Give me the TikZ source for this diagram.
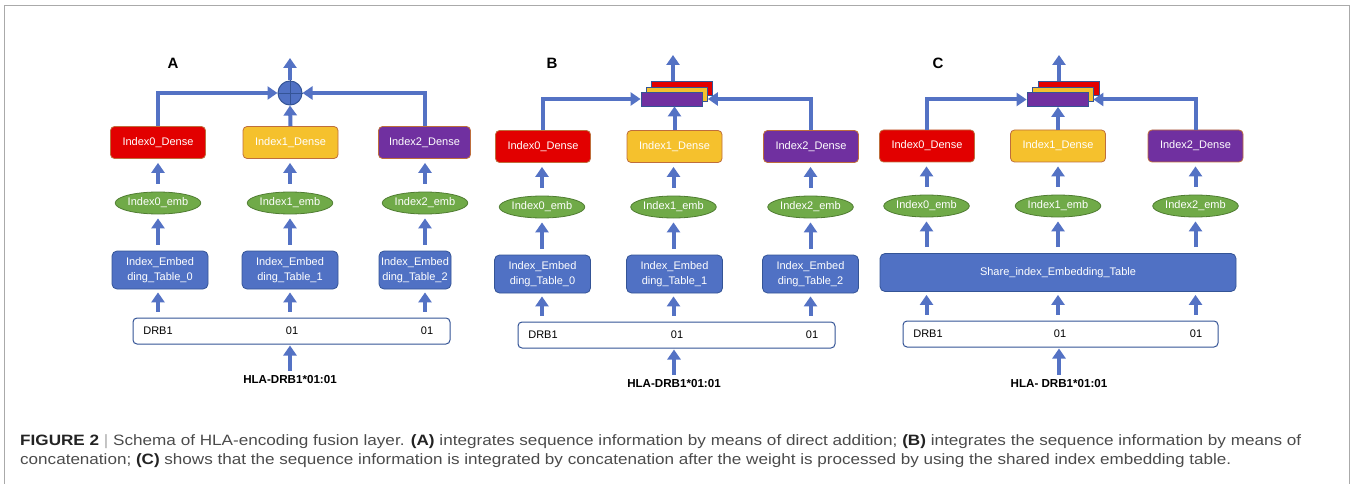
\documentclass[tikz,border=0pt]{standalone}
\usepackage{fontspec}
\setmainfont{Liberation Sans}
\newfontfamily\capfont{Liberation Sans}
\usetikzlibrary{arrows.meta,shapes.geometric,calc}
\definecolor{arrblue}{RGB}{84,114,196}
\definecolor{tabblue}{RGB}{80,113,196}
\definecolor{tabedge}{RGB}{52,84,150}
\definecolor{dred}{RGB}{226,0,0}
\definecolor{dyellow}{RGB}{245,193,45}
\definecolor{dpurple}{RGB}{112,48,160}
\definecolor{dedge}{RGB}{190,110,60}
\definecolor{embgreen}{RGB}{112,170,72}
\definecolor{embedge}{RGB}{80,125,50}
\definecolor{framegray}{RGB}{170,170,170}
\definecolor{captext}{RGB}{75,75,75}
\definecolor{capbold}{RGB}{35,35,35}
\begin{document}
\begin{tikzpicture}[x=1pt,y=-1pt,
  boxfont/.style={font=\fontsize{11}{15}\selectfont},
  dense/.style={boxfont, rounded corners=4pt, minimum width=95pt, minimum height=32pt, inner sep=0pt, line width=0.8pt, draw=dedge, text=white},
  emb/.style={boxfont, ellipse, draw=embedge, fill=embgreen, line width=0.8pt, minimum width=80pt, minimum height=22pt, inner sep=0pt, text=white},
  tab/.style={boxfont, rounded corners=5pt, fill=tabblue, draw=tabedge, line width=0.8pt, minimum width=96pt, minimum height=38pt, inner sep=0pt, align=center, text=white},
  rowbox/.style={draw=tabedge, fill=white, rounded corners=4pt, line width=1pt, minimum height=26pt, inner sep=0pt},
  rowtxt/.style={boxfont, inner sep=0pt, text=black},
  hla/.style={font=\fontsize{11.6}{13}\selectfont\bfseries, inner sep=0pt, text=black},
  panel/.style={font=\fontsize{15}{17}\selectfont\bfseries, inner sep=0pt, text=black},
  arr/.style={draw=arrblue, line width=4pt, -{Triangle[width=13pt,length=10pt]}},
  plusnode/.style={circle, draw=tabedge, fill=tabblue, line width=1pt, minimum size=24pt, inner sep=0pt},
  stk/.style={draw=tabedge, line width=0.8pt, minimum width=61pt, minimum height=14pt, inner sep=0pt},
  up1/.style={arr, shorten <=8pt, shorten >=4pt},
  up2/.style={arr, shorten <=6pt, shorten >=4pt},
  up3/.style={arr, shorten <=6pt, shorten >=3pt},
  captxt/.style={anchor=base west, inner sep=0pt, text=captext},
]
\useasboundingbox (0,0) rectangle (1352,484);
\draw[framegray, line width=1pt] (4,490) -- (4,6) -- (1349,6) -- (1349,490);

% ================= Panel A =================
\node[panel] (labA) at (173,63) {A};
\node[plusnode] (pA) at (290,93) {};
\draw[tabedge, line width=0.8pt] (pA.north) -- (pA.south) (pA.west) -- (pA.east);
\coordinate (oA) at (290,58);
\node[dense, fill=dred] (dA0) at (158,142.5) {Index0\_Dense};
\node[dense, fill=dyellow] (dA1) at (290.5,142.5) {Index1\_Dense};
\node[dense, fill=dpurple, minimum width=92pt] (dA2) at (424.5,142.5) {Index2\_Dense};
\node[emb] (eA0) at (158,203) {Index0\_emb};
\node[emb] (eA1) at (290,203) {Index1\_emb};
\node[emb] (eA2) at (425,203) {Index2\_emb};
\node[tab] (tA0) at (160,270) {Index\_Embed\\ding\_Table\_0};
\node[tab] (tA1) at (290,270) {Index\_Embed\\ding\_Table\_1};
\node[tab, minimum width=72pt] (tA2) at (415,270) {Index\_Embed\\ding\_Table\_2};
\node[rowbox, minimum width=317pt] (rA) at (291.5,331) {};
\node[rowtxt] (rA0) at (158,331) {DRB1};
\node[rowtxt] (rA1) at (292,331) {01};
\node[rowtxt] (rA2) at (427,331) {01};
\node[hla] (hA) at (290,380) {HLA-DRB1*01:01};

\draw[arr] (pA.north) -- (oA);
\draw[arr] (dA0.north) |- (pA.west);
\draw[arr] (dA2.north) |- (pA.east);
\draw[arr] (dA1.north) -- (pA.south);
\draw[up1] (eA0.north) -- (dA0.south);
\draw[up1] (eA1.north) -- (eA1.north |- dA1.south);
\draw[up1] (eA2.north) -- (eA2.north |- dA2.south);
\draw[up2] (eA0 |- tA0.north) -- (eA0.south);
\draw[up2] (eA1 |- tA1.north) -- (eA1.south);
\draw[up2] (eA2 |- tA2.north) -- (eA2.south);
\draw[up3] (eA0 |- rA.north) -- (eA0 |- tA0.south);
\draw[up3] (eA1 |- rA.north) -- (eA1 |- tA1.south);
\draw[up3] (eA2 |- rA.north) -- (eA2 |- tA2.south);
\draw[arr, shorten <=5pt, shorten >=1pt] (hA.north) -- (hA.north |- rA.south);

% ================= Panel B =================
\node[panel] (labB) at (552,63) {B};
\node[stk, fill=dred] (sB2) at (682,88) {};
\node[stk, fill=dyellow] (sB1) at (677,94) {};
\node[stk, fill=dpurple] (sB0) at (671.5,99) {};
\coordinate (oB) at (673,55);
\node[dense, fill=dred] (dB0) at (543,146.5) {Index0\_Dense};
\node[dense, fill=dyellow] (dB1) at (674.5,146.5) {Index1\_Dense};
\node[dense, fill=dpurple] (dB2) at (811,146.5) {Index2\_Dense};
\node[emb] (eB0) at (542,207) {Index0\_emb};
\node[emb] (eB1) at (673.5,207) {Index1\_emb};
\node[emb] (eB2) at (810.5,207) {Index2\_emb};
\node[tab] (tB0) at (542.5,274) {Index\_Embed\\ding\_Table\_0};
\node[tab] (tB1) at (674.5,274) {Index\_Embed\\ding\_Table\_1};
\node[tab] (tB2) at (810.5,274) {Index\_Embed\\ding\_Table\_2};
\node[rowbox, minimum width=317pt] (rB) at (676.5,335) {};
\node[rowtxt] (rB0) at (543,335) {DRB1};
\node[rowtxt] (rB1) at (677,335) {01};
\node[rowtxt] (rB2) at (812,335) {01};
\node[hla] (hB) at (674,384) {HLA-DRB1*01:01};

\draw[arr] (oB |- sB2.north) -- (oB);
\draw[arr] (dB0.north) |- (sB0.west);
\draw[arr] (dB2.north) |- (sB1.east |- sB0.east);
\draw[arr] (dB1.north) -- (dB1.north |- sB0.south);
\draw[up1] (eB0.north) -- (eB0.north |- dB0.south);
\draw[up1] (eB1.north) -- (eB1.north |- dB1.south);
\draw[up1] (eB2.north) -- (eB2.north |- dB2.south);
\draw[up2] (eB0 |- tB0.north) -- (eB0.south);
\draw[up2] (eB1 |- tB1.north) -- (eB1.south);
\draw[up2] (eB2 |- tB2.north) -- (eB2.south);
\draw[up3] (eB0 |- rB.north) -- (eB0 |- tB0.south);
\draw[up3] (eB1 |- rB.north) -- (eB1 |- tB1.south);
\draw[up3] (eB2 |- rB.north) -- (eB2 |- tB2.south);
\draw[arr, shorten <=5pt, shorten >=1pt] (hB.north) -- (hB.north |- rB.south);

% ================= Panel C =================
\node[panel] (labC) at (938,63) {C};
\node[stk, fill=dred] (sC2) at (1069,88) {};
\node[stk, fill=dyellow] (sC1) at (1062.5,94) {};
\node[stk, fill=dpurple] (sC0) at (1057.5,99.5) {};
\coordinate (oC) at (1059,55);
\node[dense, fill=dred] (dC0) at (927,146) {Index0\_Dense};
\node[dense, fill=dyellow] (dC1) at (1058,146) {Index1\_Dense};
\node[dense, fill=dpurple] (dC2) at (1195.5,146) {Index2\_Dense};
\node[emb] (eC0) at (926.5,206) {Index0\_emb};
\node[emb] (eC1) at (1058,206) {Index1\_emb};
\node[emb] (eC2) at (1195.5,206) {Index2\_emb};
\node[tab, minimum width=356pt] (tC) at (1058,272.5) {Share\_index\_Embedding\_Table};
\node[rowbox, minimum width=315pt] (rC) at (1060.5,334) {};
\node[rowtxt] (rC0) at (928,334) {DRB1};
\node[rowtxt] (rC1) at (1060,334) {01};
\node[rowtxt] (rC2) at (1196,334) {01};
\node[hla] (hC) at (1059,384) {HLA- DRB1*01:01};

\draw[arr] (oC |- sC2.north) -- (oC);
\draw[arr] (dC0.north) |- (sC0.west);
\draw[arr] (dC2.north) |- (sC1.east |- sC0.east);
\draw[arr] (dC1.north) -- (dC1.north |- sC0.south);
\draw[up1] (eC0.north) -- (eC0.north |- dC0.south);
\draw[up1] (eC1.north) -- (eC1.north |- dC1.south);
\draw[up1] (eC2.north) -- (eC2.north |- dC2.south);
\draw[up2] (eC0 |- tC.north) -- (eC0.south);
\draw[up2] (eC1 |- tC.north) -- (eC1.south);
\draw[up2] (eC2 |- tC.north) -- (eC2.south);
\draw[up3] (eC0 |- rC.north) -- (eC0 |- tC.south);
\draw[up3] (eC1 |- rC.north) -- (eC1 |- tC.south);
\draw[up3] (eC2 |- rC.north) -- (eC2 |- tC.south);
\draw[arr, shorten <=5pt, shorten >=1pt] (hC.north) -- (hC.north |- rC.south);

% ================= Caption =================
\node[captxt] (cap1) at (20,445)
  {\resizebox{1281pt}{\height}{\capfont\fontsize{15}{18}\selectfont{\color{capbold}\bfseries FIGURE 2} {\color{framegray}|} Schema of HLA-encoding fusion layer. {\color{capbold}\bfseries (A)} integrates sequence information by means of direct addition; {\color{capbold}\bfseries (B)} integrates the sequence information by means of}};
\node[captxt] (cap2) at (20,464)
  {\resizebox{1211pt}{\height}{\capfont\fontsize{15}{18}\selectfont concatenation; {\color{capbold}\bfseries (C)} shows that the sequence information is integrated by concatenation after the weight is processed by using the shared index embedding table.}};
\end{tikzpicture}
\end{document}
